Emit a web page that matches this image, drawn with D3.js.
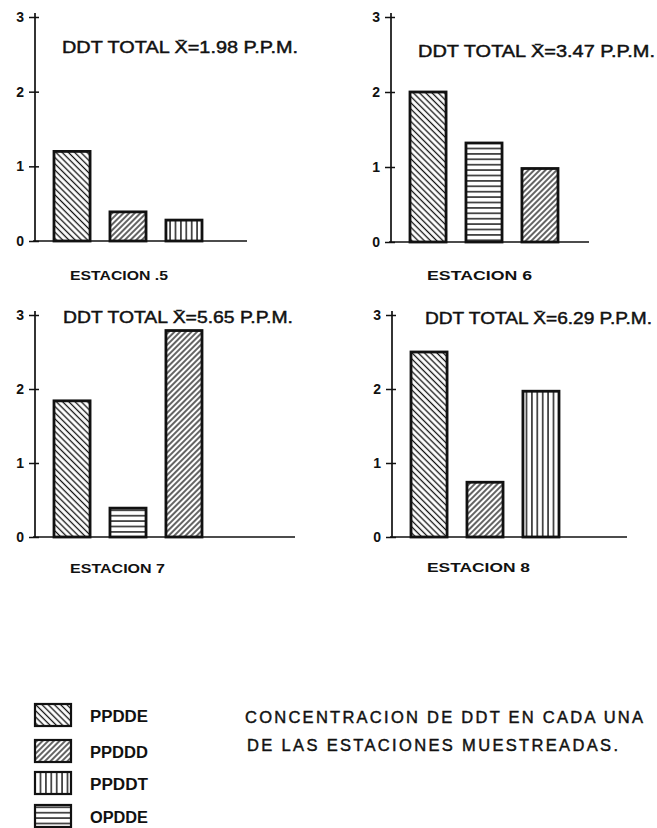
<!DOCTYPE html>
<html>
<head>
<meta charset="utf-8">
<script src="https://cdn.jsdelivr.net/npm/d3@7/dist/d3.min.js"></script>
<style>
  html, body { margin: 0; padding: 0; background: #fff; }
  svg { display: block; }
  text { font-family: "Liberation Sans", Arial, sans-serif; fill: #111; }
  .heavy { stroke: #111; stroke-width: 0.45px; }
</style>
</head>
<body>
<svg id="chart" width="657" height="828"></svg>
<script>
// Station names and mean total DDT (p.p.m.)
const stations = ["ESTACION .5", "ESTACION 6", "ESTACION 7", "ESTACION 8"];
const totals = ["1.98", "3.47", "5.65", "6.29"];

// Compounds, in legend order
const compounds = ["PPDDE", "PPDDD", "PPDDT", "OPDDE"];

// Compound shown by each bar, per station
const barCompounds = [
  ["PPDDE", "PPDDD", "PPDDT"],
  ["PPDDE", "OPDDE", "PPDDD"],
  ["PPDDE", "OPDDE", "PPDDD"],
  ["PPDDE", "PPDDD", "PPDDT"]
];

// Concentration (p.p.m.) of each bar, per station
const barValues = [
  [1.20, 0.39, 0.28],
  [2.00, 1.32, 0.98],
  [1.84, 0.39, 2.79],
  [2.50, 0.74, 1.97]
];

const yTicks = [0, 1, 2, 3];
const captionLines = ["CONCENTRACION DE DDT EN CADA UNA", "DE LAS ESTACIONES MUESTREADAS."];

// Panel placement on the page
const panelLayout = [
  { ax: 35,  y0: 241, y3: 17,  xEnd: 247, titleX: 62,  titleW: 236, titleY: 53,  labX: 70,  labW: 98,  labY: 280 },
  { ax: 391, y0: 242, y3: 17,  xEnd: 589, titleX: 418, titleW: 237, titleY: 57,  labX: 427, labW: 105, labY: 280 },
  { ax: 35,  y0: 537, y3: 315, xEnd: 295, titleX: 63,  titleW: 230, titleY: 323, labX: 70,  labW: 95,  labY: 573 },
  { ax: 392, y0: 537, y3: 315, xEnd: 627, titleX: 425, titleW: 227, titleY: 324, labX: 427, labW: 103, labY: 572 }
];

const svg = d3.select("#chart");
const defs = svg.append("defs");

// Line fills for each compound
const hatchSpec = {
  PPDDE: { angle: -45, gap: 4.4, sw: 1.3 },
  PPDDD: { angle: 45,  gap: 4.0, sw: 1.3 },
  PPDDT: { angle: 0,   gap: 5.4, sw: 1.4 },
  OPDDE: { angle: 90,  gap: 5.4, sw: 1.4 }
};
compounds.forEach(c => {
  const s = hatchSpec[c];
  const p = defs.append("pattern")
    .attr("id", "fill-" + c)
    .attr("patternUnits", "userSpaceOnUse")
    .attr("width", s.gap).attr("height", s.gap)
    .attr("patternTransform", `rotate(${s.angle})`);
  p.append("rect").attr("width", s.gap).attr("height", s.gap).attr("fill", "#fff");
  p.append("line")
    .attr("x1", s.gap / 2).attr("x2", s.gap / 2)
    .attr("y1", -1).attr("y2", s.gap + 1)
    .attr("stroke", "#111").attr("stroke-width", s.sw);
});

panelLayout.forEach((L, k) => {
  const g = svg.append("g");
  const y = d3.scaleLinear().domain([0, 3]).range([L.y0, L.y3]);
  const x = d3.scaleBand().domain(d3.range(3))
    .range([L.ax + 18, L.ax + 168]).paddingInner(0.32).paddingOuter(0);

  // baseline
  g.append("line")
    .attr("x1", L.ax - 2).attr("x2", L.xEnd)
    .attr("y1", L.y0).attr("y2", L.y0)
    .attr("stroke", "#111").attr("stroke-width", 1.7);

  // y axis with cross ticks
  const axis = g.append("g")
    .attr("transform", `translate(${L.ax},0)`)
    .call(d3.axisLeft(y).tickValues(yTicks).tickFormat(d3.format("d")).tickSize(6).tickPadding(4));
  axis.select(".domain")
    .attr("d", `M0,${L.y3 - 4}V${L.y0}`)
    .attr("stroke", "#111").attr("stroke-width", 1.7);
  axis.selectAll(".tick line").attr("x1", 4).attr("x2", -6)
    .attr("stroke", "#111").attr("stroke-width", 1.5);
  axis.selectAll(".tick text")
    .attr("x", -11)
    .style("font-family", "'Liberation Sans', Arial, sans-serif")
    .style("font-size", "14px").style("font-weight", "bold").attr("fill", "#111");

  // bars
  g.selectAll("rect.bar")
    .data(barValues[k].map((v, i) => ({ v, i, c: barCompounds[k][i] })))
    .join("rect")
    .attr("class", "bar")
    .attr("x", d => x(d.i) + 1)
    .attr("width", x.bandwidth() - 2)
    .attr("y", d => y(d.v))
    .attr("height", d => y(0) - y(d.v))
    .attr("fill", d => `url(#fill-${d.c})`)
    .attr("stroke", "#111").attr("stroke-width", 2.8);

  // title
  g.append("text")
    .attr("class", "heavy")
    .attr("x", L.titleX).attr("y", L.titleY)
    .attr("textLength", L.titleW).attr("lengthAdjust", "spacingAndGlyphs")
    .style("font-size", "16.5px")
    .text(`DDT TOTAL X\u0304=${totals[k]} P.P.M.`);

  // station label
  g.append("text")
    .attr("x", L.labX).attr("y", L.labY)
    .attr("textLength", L.labW).attr("lengthAdjust", "spacingAndGlyphs")
    .style("font-size", "13.5px").style("font-weight", "bold")
    .text(stations[k]);
});

// legend
const legendY = [704, 740, 772, 805];
const legend = svg.append("g");
compounds.forEach((c, i) => {
  legend.append("rect")
    .attr("x", 35).attr("y", legendY[i])
    .attr("width", 36).attr("height", 22)
    .attr("fill", `url(#fill-${c})`)
    .attr("stroke", "#111").attr("stroke-width", 2.2);
  legend.append("text")
    .attr("x", 90).attr("y", legendY[i] + 18)
    .attr("textLength", 58).attr("lengthAdjust", "spacingAndGlyphs")
    .style("font-size", "16px").style("font-weight", "bold")
    .text(c);
});

// caption
const captionW = [398, 371];
captionLines.forEach((t, i) => {
  svg.append("text")
    .attr("class", "heavy")
    .attr("x", 245 + i * 2).attr("y", 723 + i * 28)
    .attr("textLength", captionW[i]).attr("lengthAdjust", "spacing")
    .style("font-size", "16.5px")
    .text(t);
});
</script>
</body>
</html>
